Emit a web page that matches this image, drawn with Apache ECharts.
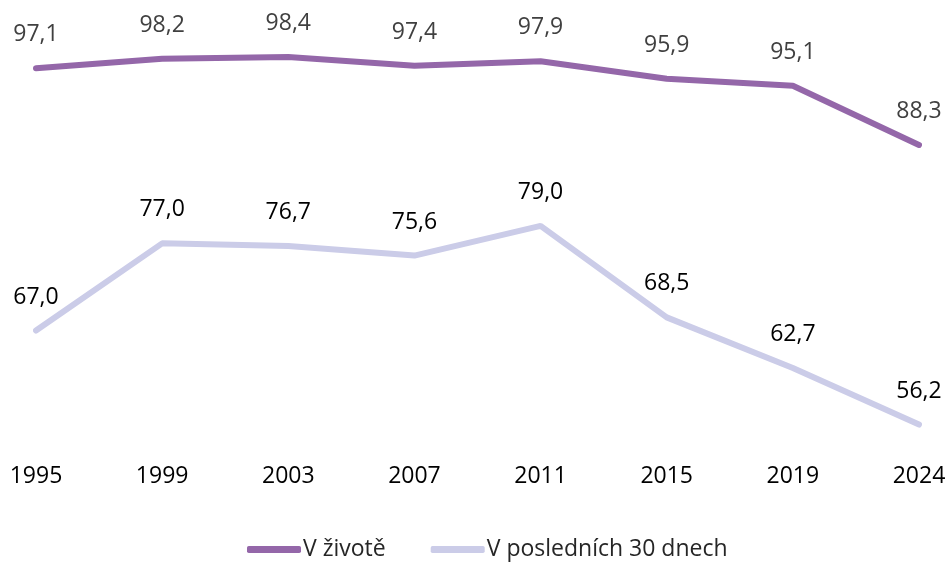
<!DOCTYPE html>
<html>
<head>
<meta charset="utf-8">
<script src="https://cdn.jsdelivr.net/npm/echarts@6/dist/echarts.min.js"></script>
<style>
  html, body { margin: 0; padding: 0; background: #fff; }
  #chart { width: 950px; height: 562px; }
</style>
</head>
<body>
<div id="chart"></div>
<script>
// kategorie (roky)
const years = ['1995', '1999', '2003', '2007', '2011', '2015', '2019', '2024'];
// V životě
const lifetime = [97.1, 98.2, 98.4, 97.4, 97.9, 95.9, 95.1, 88.3];
// V posledních 30 dnech
const last30 = [67.0, 77.0, 76.7, 75.6, 79.0, 68.5, 62.7, 56.2];

const fontFamily = '"Open Sans", "Noto Sans", sans-serif';
const fmt = (p) => p.value.toFixed(1).replace('.', ',');

const chart = echarts.init(document.getElementById('chart'));

chart.setOption({
    animation: false,
    textStyle: { fontFamily: fontFamily },
    grid: { left: 36, right: 31, top: 43, bottom: 127 },
    legend: {
        top: 533,
        left: 242,
        icon: 'roundRect',
        itemWidth: 54,
        itemHeight: 7,
        itemGap: 45,
        textStyle: { fontSize: 23, color: '#262626', fontFamily: fontFamily, padding: [0, 0, 0, -3] },
        data: ['V životě', 'V posledních 30 dnech']
    },
    xAxis: {
        type: 'category',
        data: years,
        boundaryGap: false,
        axisLine: { show: false },
        axisTick: { show: false },
        axisLabel: { fontSize: 23, color: '#000', margin: 30 }
    },
    yAxis: {
        type: 'value',
        min: 55,
        max: 100,
        show: false
    },
    series: [
        {
            name: 'V životě',
            type: 'line',
            data: lifetime,
            symbol: 'circle',
            symbolSize: 0,
            lineStyle: { width: 6, color: '#9467a9', cap: 'round' },
            itemStyle: { color: '#9467a9' },
            label: {
                show: true,
                position: 'top',
                distance: 22,
                fontSize: 23,
                color: '#404040',
                formatter: fmt
            }
        },
        {
            name: 'V posledních 30 dnech',
            type: 'line',
            data: last30,
            symbol: 'circle',
            symbolSize: 0,
            lineStyle: { width: 6, color: '#cbcce8', cap: 'round' },
            itemStyle: { color: '#cbcce8' },
            label: {
                show: true,
                position: 'top',
                distance: 22,
                fontSize: 23,
                color: '#000',
                formatter: fmt
            }
        }
    ]
});
</script>
</body>
</html>
